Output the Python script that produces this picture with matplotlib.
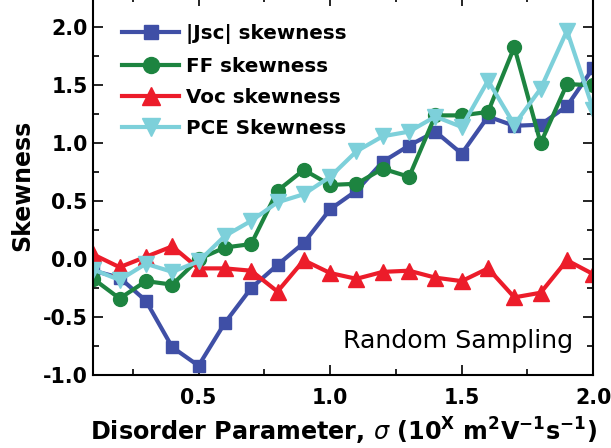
import numpy as np
import matplotlib as mpl
import matplotlib.pyplot as plt
from matplotlib.ticker import MultipleLocator

mpl.rcParams['font.family'] = ['DejaVu Sans']
mpl.rcParams['mathtext.fontset'] = 'dejavusans'
mpl.rcParams['axes.unicode_minus'] = False

# disorder parameter sigma
sigma = [0.1, 0.2, 0.3, 0.4, 0.5, 0.6, 0.7, 0.8, 0.9, 1.0,
         1.1, 1.2, 1.3, 1.4, 1.5, 1.6, 1.7, 1.8, 1.9, 2.0]

# skewness
jsc_skew = [-0.10, -0.16, -0.36, -0.76, -0.92, -0.55, -0.25, -0.05, 0.14, 0.43,
            0.59, 0.84, 0.98, 1.10, 0.91, 1.23, 1.15, 1.16, 1.32, 1.65]
ff_skew = [-0.17, -0.34, -0.19, -0.22, 0.00, 0.10, 0.13, 0.59, 0.77, 0.64,
           0.65, 0.78, 0.71, 1.24, 1.24, 1.27, 1.83, 1.00, 1.51, 1.50]
voc_skew = [0.04, -0.07, 0.02, 0.11, -0.08, -0.08, -0.10, -0.28, -0.01, -0.12,
            -0.17, -0.11, -0.10, -0.16, -0.19, -0.08, -0.33, -0.29, -0.01, -0.13]
pce_skew = [-0.09, -0.18, -0.04, -0.11, -0.02, 0.20, 0.33, 0.49, 0.56, 0.71,
            0.93, 1.06, 1.10, 1.23, 1.14, 1.54, 1.16, 1.47, 1.97, 1.29]

fig = plt.figure(figsize=(6.11, 4.48), dpi=100)
ax = fig.add_axes([0.1527, 0.1629, 0.8183, 0.846])

lw = 3.0
ax.plot(sigma, jsc_skew, color='#3f4fa6', marker='s', ms=9, lw=lw,
        label='|Jsc| skewness')
ax.plot(sigma, ff_skew, color='#1d8440', marker='o', ms=10, lw=lw,
        label='FF skewness')
ax.plot(sigma, voc_skew, color='#ec1c2a', marker='^', ms=11, lw=lw,
        label='Voc skewness')
ax.plot(sigma, pce_skew, color='#7dd0da', marker='v', ms=11, lw=lw,
        label='PCE Skewness')

ax.set_xlim(0.1, 2.0)
ax.set_ylim(-1.0, 2.27)
ax.xaxis.set_major_locator(MultipleLocator(0.5))
ax.xaxis.set_minor_locator(MultipleLocator(0.25))
ax.yaxis.set_major_locator(MultipleLocator(0.5))
ax.yaxis.set_minor_locator(MultipleLocator(0.25))
ax.tick_params(which='both', direction='in', top=True, right=True, width=1.2)
ax.tick_params(which='major', length=7, labelsize=14.8)
ax.tick_params(axis='x', which='major', pad=9)
ax.tick_params(axis='y', which='major', pad=4)
ax.tick_params(which='minor', length=4)
for lab in ax.get_xticklabels() + ax.get_yticklabels():
    lab.set_fontweight('bold')
for sp in ax.spines.values():
    sp.set_linewidth(1.5)

ax.set_xlabel(r'Disorder Parameter, $\sigma$ (10$^{\mathbf{X}}$ m$^{\mathbf{2}}$V$^{\mathbf{-1}}$s$^{\mathbf{-1}}$)',
              fontsize=17.2, fontweight='bold', labelpad=6)
ax.set_ylabel('Skewness', fontsize=17, fontweight='bold', labelpad=6)

ax.text(0.96, 0.072, 'Random Sampling', fontsize=18.2, ha='right',
        va='baseline', transform=ax.transAxes)

ax.legend(loc='upper left', bbox_to_anchor=(0.057, 0.925), frameon=False,
          prop={'size': 14.3, 'weight': 'bold'}, handlelength=2.9,
          handletextpad=0.35, labelspacing=0.62, borderaxespad=0,
          borderpad=0, markerscale=1.15)

fig.savefig('out.png', dpi=100)
